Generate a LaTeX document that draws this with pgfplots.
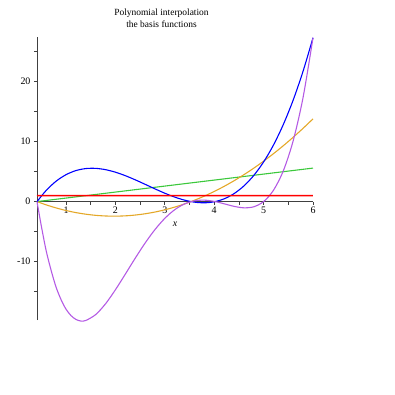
\documentclass[border=0pt]{standalone}
\usepackage{pgfplots}
\pgfplotsset{compat=1.18}
\usepackage{fontspec}
\setmainfont{Liberation Serif}
\definecolor{mgreen}{RGB}{60,200,60}
\definecolor{morange}{RGB}{228,168,40}
\definecolor{mpurple}{RGB}{180,90,228}
\definecolor{mblue}{RGB}{0,0,255}
\definecolor{mredline}{rgb}{1,0,0}
\begin{document}
\begin{tikzpicture}[x=1bp,y=1bp]
\path[use as bounding box] (0,0) rectangle (395,-395);
\node[align=center,font=\fontsize{9.5}{12}\selectfont,inner sep=0pt] at (161.5,-18) {Polynomial interpolation\\the basis functions};
\begin{axis}[
  at={(37bp,-37.3bp)}, anchor=north west,
  scale only axis, width=276bp, height=282.7bp,
  xmin=0.413, xmax=6, ymin=-19.75, ymax=27.4,
  axis x line=middle, axis y line=left,
  axis line style={-, black!75, line width=0.7pt},
  xtick={1,2,3,4,5,6}, minor xtick={1.5,2.5,3.5,4.5,5.5},
  ytick={-10,0,10,20}, minor ytick={-15,-5,5,15,25},
  tick align=outside,
  major tick length=3bp, minor tick length=3bp,
  tick style={black!75, line width=0.6pt},
  ticklabel style={font=\fontsize{10}{12}\selectfont},
  /pgf/number format/assume math mode=true,
  xticklabel style={yshift=1bp},
  xlabel={\textit{x}},
  xlabel style={at={(axis description cs:0.5,0.34)}, anchor=center, font=\fontsize{10}{12}\selectfont},
  clip=false,
  every axis plot/.append style={line width=1.1pt, no marks},
]
\addplot[color=mgreen] coordinates {(0.413,0) (6,5.587)};
\addplot[color=morange, smooth] coordinates {
(0.413,0) (0.6,-0.548) (0.8,-1.057) (1.0,-1.485) (1.2,-1.834) (1.4,-2.102) (1.6,-2.291) (1.8,-2.400) (2.0,-2.428) (2.2,-2.377) (2.4,-2.245) (2.6,-2.034) (2.8,-1.743) (3.0,-1.371) (3.2,-0.920) (3.4,-0.388) (3.6,0.223) (3.8,0.914) (4.0,1.686) (4.2,2.537) (4.4,3.469) (4.6,4.480) (4.8,5.571) (5.0,6.743) (5.2,7.994) (5.4,9.326) (5.6,10.737) (5.8,12.228) (6.0,13.80)};
\addplot[color=mblue, smooth] coordinates {
(0.413,0) (0.6,1.874) (0.8,3.403) (1.0,4.485) (1.2,5.171) (1.4,5.508) (1.6,5.544) (1.8,5.327) (2.0,4.905) (2.2,4.326) (2.4,3.637) (2.6,2.888) (2.8,2.126) (3.0,1.398) (3.2,0.754) (3.4,0.241) (3.6,-0.094) (3.8,-0.201) (4.0,-0.034) (4.2,0.457) (4.4,1.318) (4.6,2.598) (4.8,4.346) (5.0,6.608) (5.2,9.433) (5.4,12.87) (5.6,16.96) (5.8,21.77) (6.0,27.32)};
\addplot[color=mpurple, smooth] coordinates {
(0.413,0) (0.5,-4.05) (0.6,-8.245) (0.7,-11.50) (0.8,-14.29) (0.9,-16.35) (1.0,-17.94) (1.1,-19.0) (1.2,-19.65) (1.3,-19.92) (1.4,-19.83) (1.6,-18.85) (1.8,-17.05) (2.0,-14.71) (2.2,-12.11) (2.4,-9.457) (2.6,-6.932) (2.8,-4.677) (3.0,-2.797) (3.2,-1.357) (3.4,-0.386) (3.6,0.131) (3.8,0.241) (4.0,0.034) (4.2,-0.365) (4.4,-0.791) (4.6,-1.039) (4.8,-0.869) (5.0,0) (5.2,1.887) (5.4,5.148) (5.6,10.18) (5.8,17.41) (6.0,27.32)};
\addplot[draw=mredline, line width=1.4pt] coordinates {(0.413,1) (2,1.0001) (4,1) (6,1.0001)};
\end{axis}
\end{tikzpicture}
\end{document}
